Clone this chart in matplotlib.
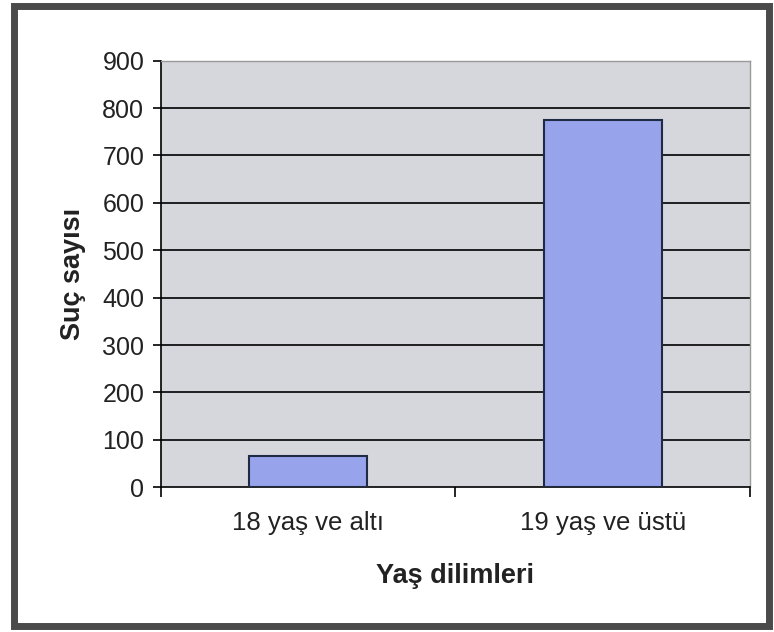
import matplotlib.pyplot as plt
import matplotlib.patches as mpatches

categories = ["18 yaş ve altı", "19 yaş ve üstü"]
counts = [66, 775]
y_ticks = [0, 100, 200, 300, 400, 500, 600, 700, 800, 900]

plt.rcParams["font.family"] = ["Liberation Sans", "DejaVu Sans"]

fig = plt.figure(figsize=(7.74, 6.32), dpi=100)
ax = fig.add_axes([0.208, 0.229, 0.761, 0.675])

# outer chart frame
fig.patches.append(mpatches.Rectangle(
    (0.018, 0.009), 0.975, 0.982, transform=fig.transFigure,
    fill=False, edgecolor="#4a4a4a", linewidth=5))

ax.set_facecolor("#d6d6dd")
x = list(range(len(categories)))
ax.bar(x, counts, width=0.4, color="#97a4ec", edgecolor="#1f2a44", linewidth=1.5, zorder=3)

ax.set_xlim(-0.5, len(categories) - 0.5)
ax.set_ylim(0, 900)
ax.set_yticks(y_ticks)
ax.set_yticklabels([str(v) for v in y_ticks], fontsize=18, color="#222222")
for v in y_ticks[1:-1]:
    ax.axhline(v, color="black", linewidth=1.2, zorder=1)

ax.set_xticks(x)
ax.set_xticklabels(categories, fontsize=18.5, color="#222222")
ax.set_xticks([-0.5, 0.5, 1.5], minor=True)
ax.tick_params(axis="x", which="major", length=0, pad=17)
ax.tick_params(axis="x", which="minor", length=7, width=1.2, color="black")
ax.tick_params(axis="y", length=6, width=1.2, pad=6)

for s in ["top", "right"]:
    ax.spines[s].set_color("#999999")
    ax.spines[s].set_linewidth(1)
for s in ["left", "bottom"]:
    ax.spines[s].set_color("black")
    ax.spines[s].set_linewidth(1.2)

ax.set_xlabel("Yaş dilimleri", fontsize=19.5, fontweight="bold", labelpad=20, color="#222222")
ax.set_ylabel("Suç sayısı", fontsize=19.5, fontweight="bold", labelpad=12, color="#222222")

fig.savefig("out.png", dpi=100)
